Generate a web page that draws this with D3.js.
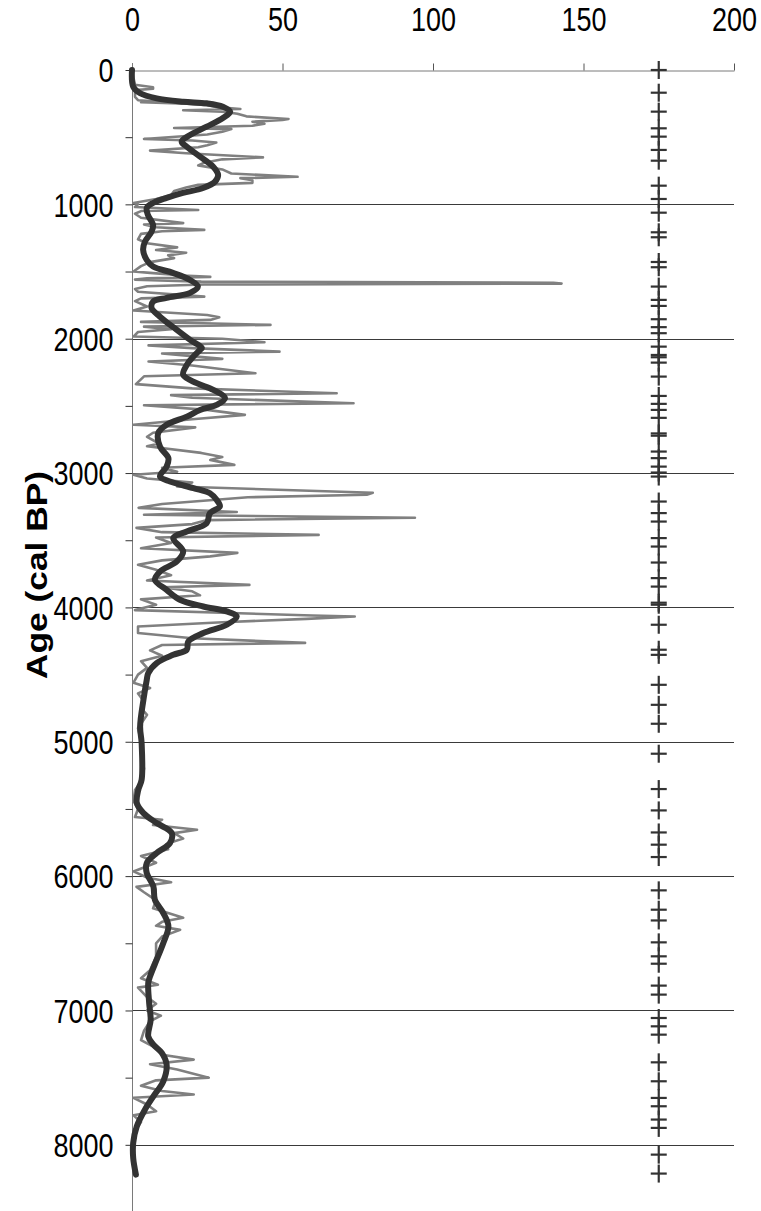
<!DOCTYPE html>
<html>
<head>
<meta charset="utf-8">
<script src="https://cdn.jsdelivr.net/npm/d3@7"></script>
<style>
  body { margin: 0; background: #fff; }
  svg { display: block; font-family: "Liberation Sans", Arial, sans-serif; }
</style>
</head>
<body>
<div id="chart"></div>
<script>
const width = 761;
const height = 1211;

// raw record (thin grey line): age (cal BP) and value
const rawAge = [0, 60, 110, 128, 140, 150, 200, 225, 236, 240, 250, 262, 275, 290, 300, 310, 325, 345, 365, 372, 385, 400, 415, 432, 440, 460, 480, 513, 525, 540, 560, 575, 600, 620, 650, 665, 690, 710, 740, 770, 795, 805, 820, 840, 855, 875, 900, 930, 960, 990, 1000, 1020, 1042, 1050, 1070, 1100, 1140, 1150, 1170, 1190, 1200, 1220, 1260, 1290, 1320, 1340, 1360, 1380, 1400, 1430, 1460, 1500, 1510, 1530, 1540, 1550, 1560, 1575, 1583, 1590, 1597, 1610, 1630, 1650, 1687, 1700, 1720, 1760, 1790, 1823, 1840, 1860, 1875, 1897, 1910, 1930, 1950, 1984, 2000, 2026, 2050, 2070, 2096, 2110, 2150, 2170, 2200, 2257, 2280, 2338, 2370, 2406, 2420, 2440, 2480, 2495, 2530, 2567, 2600, 2641, 2660, 2700, 2730, 2780, 2800, 2850, 2880, 2902, 2939, 2960, 2990, 3013, 3040, 3070, 3100, 3147, 3162, 3180, 3230, 3259, 3290, 3310, 3333, 3350, 3380, 3408, 3440, 3460, 3480, 3520, 3560, 3594, 3620, 3650, 3683, 3720, 3760, 3800, 3832, 3850, 3880, 3910, 3940, 3980, 4020, 4060, 4068, 4085, 4110, 4142, 4190, 4230, 4264, 4280, 4320, 4360, 4400, 4450, 4500, 4560, 4600, 4640, 4700, 4750, 4800, 4900, 5000, 5100, 5200, 5300, 5360, 5440, 5500, 5560, 5580, 5620, 5655, 5680, 5720, 5760, 5800, 5850, 5900, 5965, 6010, 6045, 6080, 6120, 6180, 6240, 6310, 6340, 6370, 6400, 6450, 6500, 6600, 6700, 6760, 6808, 6830, 6900, 6950, 7000, 7039, 7080, 7150, 7220, 7280, 7330, 7366, 7400, 7440, 7500, 7520, 7560, 7600, 7626, 7650, 7700, 7750, 7780, 7830, 7900, 8000, 8100, 8220];
const rawVal = [0, 0.5, 1, 7, 7, 1, 1, 2, 10, 3, 18, 25, 28, 36, 17, 30, 35, 38, 52, 50, 40, 44, 40, 14, 33, 30, 25, 4, 20, 28, 25, 22, 6, 18, 43.5, 30, 24, 22, 30, 33, 55, 36, 40, 40, 22, 18, 14, 13, 8, 0.5, 2, 1, 22, 3, 1, 3, 17, 4, 8, 24, 10, 3, 2, 5, 15, 8, 18, 12, 14, 6, 3, 0.5, 6, 17, 26, 5, 1, 23, 140, 142.7, 24, 5, 1, 2, 24, 3, 1, 5, 0.5, 25, 29, 26, 3, 46, 4, 13, 2, 0.5, 30, 44, 5.5, 20, 49, 10, 30, 5.5, 20, 41, 4, 1.3, 20, 68, 13, 20, 73.6, 4, 25, 37.5, 20, 0.5, 21, 7, 5, 9, 5, 23, 30, 26, 34, 10, 15, 0.5, 5, 20, 15, 80, 78, 38.5, 10, 2.2, 34.8, 4, 94, 25, 20, 1.5, 10, 62, 8, 13, 3, 35, 26, 10, 2, 8, 13, 5, 39, 10, 20, 22.6, 3, 8, 1, 60, 74, 58, 30, 2, 2, 20, 57.5, 10, 6, 10, 3, 5, 2, 0.5, 6, 2, 4, 3, 5, 2, 3, 3, 4, 3, 1, 0.5, 2, 1, 10, 7, 21.6, 14, 17, 11.5, 12, 3, 8, 0.5, 5, 13, 1.5, 4, 8, 7, 17, 10, 8, 16, 10, 8, 8, 6, 3, 8.6, 2, 5, 8, 5, 9.6, 6, 4, 3, 8, 10, 20.5, 6, 15, 25.5, 8, 3, 10, 20.5, 0.5, 5, 8, 0.5, 3, 1, 0.5, 0.5, 1];

// smoothed record (thick dark line)
const smoothAge = [0, 124, 173, 211, 236, 248, 273, 310, 357, 422, 484, 533, 571, 645, 719, 781, 831, 878, 915, 952, 990, 1027, 1079, 1153, 1203, 1278, 1339, 1414, 1463, 1510, 1563, 1612, 1659, 1696, 1724, 1771, 1836, 1935, 2009, 2068, 2083, 2133, 2195, 2269, 2331, 2381, 2443, 2493, 2530, 2580, 2641, 2703, 2803, 2889, 2952, 3026, 3063, 3112, 3150, 3199, 3249, 3298, 3373, 3435, 3484, 3584, 3658, 3733, 3795, 3869, 3943, 3993, 4030, 4068, 4129, 4191, 4254, 4315, 4353, 4414, 4489, 4539, 4688, 4886, 5010, 5283, 5357, 5456, 5531, 5605, 5679, 5754, 5828, 5903, 5977, 6077, 6176, 6275, 6374, 6498, 6622, 6746, 6795, 6944, 7068, 7193, 7254, 7316, 7403, 7527, 7639, 7738, 7862, 7986, 8098, 8222];
const smoothVal = [0, 0.4, 2.7, 8.2, 17, 24.8, 30.2, 32.6, 30.2, 24.8, 19.3, 16.5, 18.2, 22.6, 26.9, 28.6, 27.6, 23.6, 16.9, 11.5, 7, 4.9, 5.3, 7, 6.5, 4.3, 3.7, 4.9, 7, 13.6, 19.3, 21.9, 19.3, 11.5, 7, 6.5, 9.3, 14.9, 19.3, 23.2, 22.6, 20.4, 18.2, 17, 21.5, 27, 30.9, 28.1, 22.6, 18.2, 11.5, 8.7, 9.3, 12.1, 11.5, 9.3, 12.6, 20.4, 25.9, 28.1, 29.2, 25.9, 24.8, 18.2, 13.7, 17, 14.9, 9.3, 7.6, 11.5, 15.9, 23.7, 31.5, 34.8, 31.5, 23.7, 18.7, 18.2, 13.7, 8.2, 5.4, 4.9, 3.8, 2.7, 3.2, 3.2, 2.1, 1.6, 3.8, 8.2, 13.2, 12.6, 8.2, 4.9, 4.9, 7.1, 7.6, 10.4, 12.1, 10.4, 8.2, 6, 5.4, 5.7, 6.2, 5.4, 7.1, 9.9, 11.5, 10.4, 7.1, 4.3, 1.6, 0.4, 0.4, 1.3];

// dated levels, plotted as crosses
const dateAges = [0, 169, 310, 434, 496, 595, 675, 861, 960, 1062, 1208, 1245, 1429, 1468, 1612, 1711, 1756, 1855, 1914, 1959, 2059, 2121, 2138, 2178, 2282, 2426, 2485, 2530, 2589, 2705, 2722, 2840, 2889, 2952, 2996, 3026, 3212, 3298, 3361, 3484, 3547, 3666, 3782, 3845, 3965, 3980, 4129, 4315, 4353, 4576, 4725, 4866, 5089, 5352, 5511, 5675, 5766, 5858, 6106, 6250, 6330, 6493, 6597, 6652, 6815, 6882, 7056, 7118, 7180, 7386, 7527, 7651, 7713, 7812, 7874, 8073, 8214];
const dateX = 175;

const xTicks = [0, 50, 100, 150, 200];
const yMinorTicks = d3.range(0, 8501, 500);
const gridAges = [1000, 2000, 3000, 4000, 5000, 6000, 7000, 8000];

// the original figure is stretched vertically, so the text is too
const stretch = 1.2;

const svg = d3
  .select("#chart")
  .append("svg")
  .attr("width", width)
  .attr("height", height);

const x = d3.scaleLinear().domain([0, 200]).range([132, 734]);
const y = d3.scaleLinear().domain([0, 8500]).range([70, 1212]);

// horizontal grid
svg
  .append("g")
  .selectAll("line")
  .data(gridAges)
  .join("line")
  .attr("x1", x(0))
  .attr("x2", x(200))
  .attr("y1", (d) => Math.round(y(d)) + 0.5)
  .attr("y2", (d) => Math.round(y(d)) + 0.5)
  .attr("stroke", "#3a3a3a")
  .attr("stroke-width", 1);

// top axis
const gx = svg
  .append("g")
  .attr("transform", `translate(0,${Math.round(y(0)) + 0.5})`)
  .call(d3.axisTop(x).tickValues(xTicks).tickSize(7).tickSizeOuter(0));
gx.select(".domain").attr("stroke", "#7a7a7a");
gx.selectAll(".tick line").attr("stroke", "#555");
gx.selectAll("text")
  .attr("y", null)
  .attr("dy", null)
  .attr("transform", `translate(0,-40) scale(1,${stretch})`)
  .attr("font-size", 27)
  .attr("fill", "#000");

// left axis: minor ticks every 500, labels every 1000
const gy = svg
  .append("g")
  .attr("transform", `translate(${Math.round(x(0)) + 0.5},0)`)
  .call(d3.axisLeft(y).tickValues(yMinorTicks).tickSize(7).tickSizeOuter(0)
    .tickFormat((d) => (d % 1000 === 0 ? d : "")));
gy.select(".domain").attr("stroke", "#7a7a7a").attr("d", `M0,${y(0) - 7}V${height}`);
gy.selectAll(".tick line").attr("stroke", "#333");
gy.selectAll("text")
  .attr("x", null)
  .attr("dy", "0.36em")
  .attr("transform", `translate(-19,0) scale(1,${stretch})`)
  .attr("font-size", 27)
  .attr("fill", "#000");

svg
  .append("text")
  .attr("transform", `translate(47,575) rotate(-90) scale(1.22,1)`)
  .attr("text-anchor", "middle")
  .attr("font-size", 29)
  .attr("font-weight", "bold")
  .text("Age (cal BP)");

const raw = rawAge.map((a, i) => [a, rawVal[i]]);
const smooth = smoothAge.map((a, i) => [a, smoothVal[i]]);

const line = d3
  .line()
  .x((d) => x(d[1]))
  .y((d) => y(d[0]));

svg
  .append("path")
  .datum(raw)
  .attr("d", line)
  .attr("fill", "none")
  .attr("stroke", "#808080")
  .attr("stroke-width", 2.6)
  .attr("stroke-linejoin", "round");

svg
  .append("path")
  .datum(smooth)
  .attr("d", line.curve(d3.curveCatmullRom))
  .attr("fill", "none")
  .attr("stroke", "#333")
  .attr("stroke-width", 6)
  .attr("stroke-linejoin", "round")
  .attr("stroke-linecap", "round");

// date crosses
const cross = svg.append("g").attr("stroke", "#333").attr("stroke-width", 2.2);
dateAges.forEach((a) => {
  const cx = x(dateX);
  const cy = y(a);
  cross.append("line").attr("x1", cx - 8).attr("x2", cx + 8).attr("y1", cy).attr("y2", cy);
  cross.append("line").attr("x1", cx).attr("x2", cx).attr("y1", cy - 9).attr("y2", cy + 9);
});
</script>
</body>
</html>
